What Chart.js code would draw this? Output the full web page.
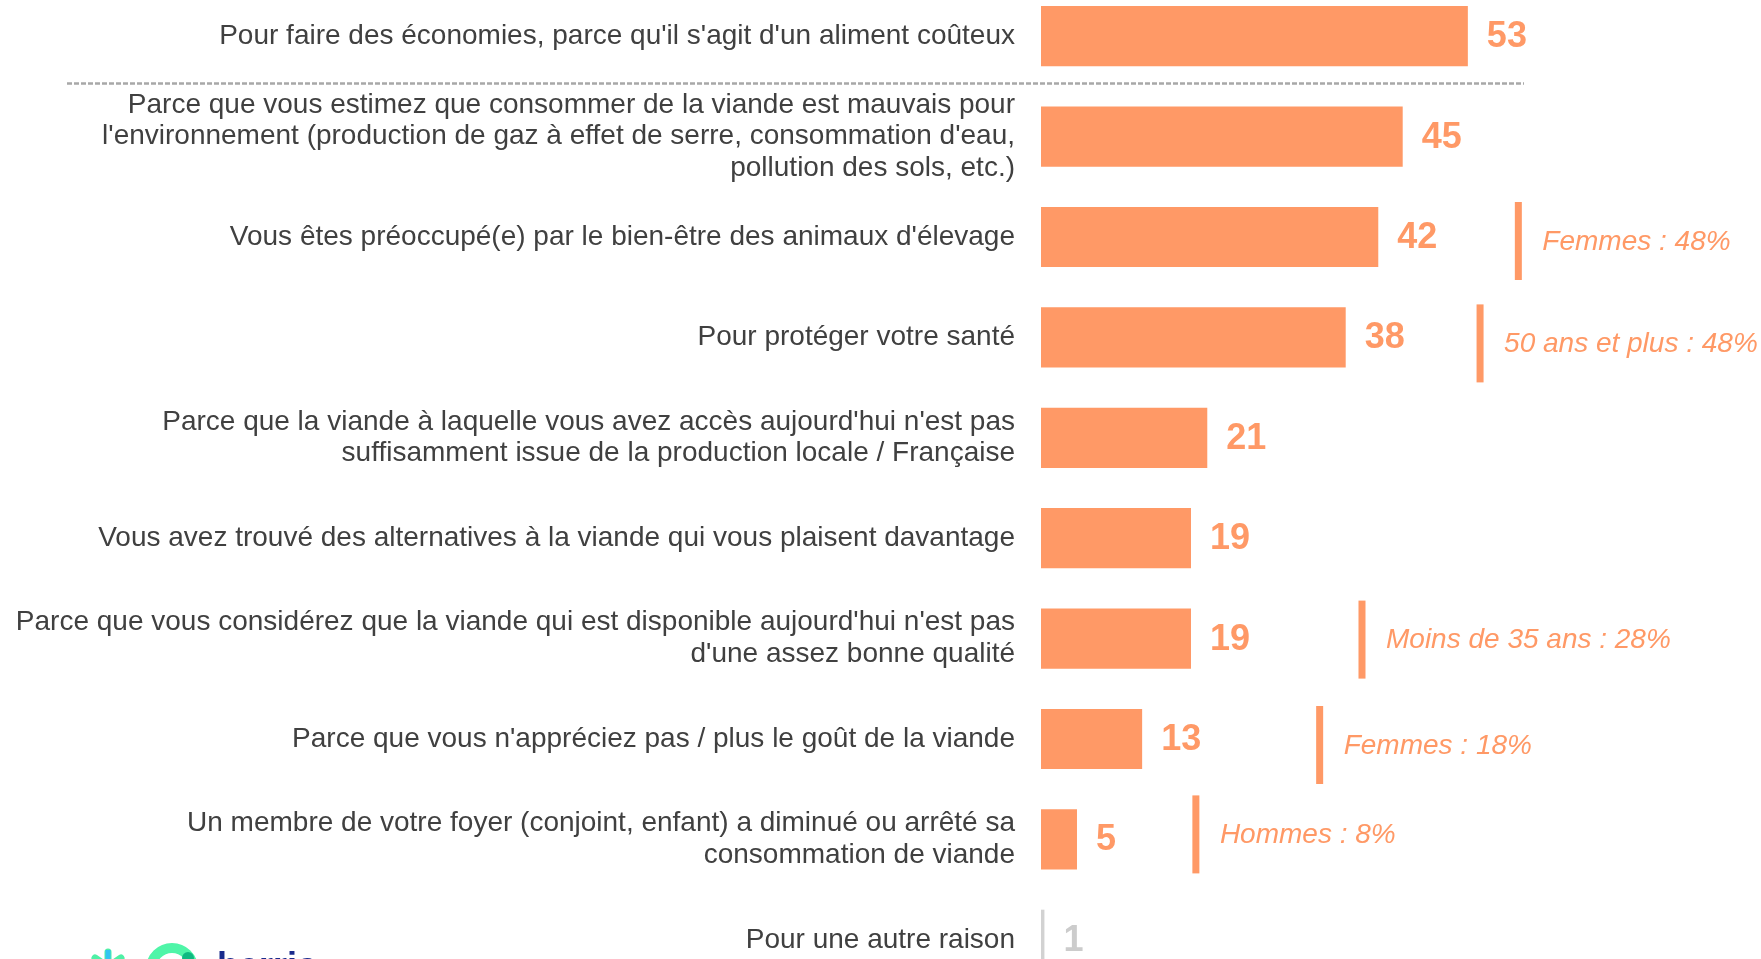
<!DOCTYPE html>
<html>
<head>
<meta charset="utf-8">
<script src="https://cdn.jsdelivr.net/npm/chart.js@4.4.1/dist/chart.umd.min.js"></script>
<style>
    html, body { margin: 0; padding: 0; background: #fff; }
    body { width: 1761px; height: 959px; overflow: hidden; position: relative; }
    #wrap { position: absolute; left: 0; top: -14px; width: 1761px; height: 1004px; }
    #logo { position: absolute; left: 80px; top: 936px; }
</style>
</head>
<body>
<div id="wrap"><canvas id="chart"></canvas></div>
<svg id="logo" width="260" height="60" viewBox="0 0 260 60">
    <g stroke="#4ff0a6" stroke-width="7" stroke-linecap="round">
        <line x1="28" y1="16" x2="28" y2="46"/>
        <line x1="15" y1="22" x2="41" y2="40"/>
        <line x1="41" y1="22" x2="15" y2="40"/>
    </g>
    <line x1="28" y1="14" x2="28" y2="28" stroke="#33c4f2" stroke-width="5"/>
    <circle cx="92" cy="33" r="21" fill="none" stroke="#4ff5a8" stroke-width="10"/>
    <circle cx="108" cy="22" r="6" fill="#10b981"/>
    <text x="137" y="42" font-family="Liberation Sans, Arial" font-weight="bold" font-size="36" fill="#1a2b8c">harris</text>
</svg>
<script>
// ==================== DATA ====================
const categories = [
    "Pour faire des économies, parce qu'il s'agit d'un aliment coûteux",
    ["Parce que vous estimez que consommer de la viande est mauvais pour",
     "l'environnement (production de gaz à effet de serre, consommation d'eau,",
     "pollution des sols, etc.)"],
    "Vous êtes préoccupé(e) par le bien-être des animaux d'élevage",
    "Pour protéger votre santé",
    ["Parce que la viande à laquelle vous avez accès aujourd'hui n'est pas",
     "suffisamment issue de la production locale / Française"],
    "Vous avez trouvé des alternatives à la viande qui vous plaisent davantage",
    ["Parce que vous considérez que la viande qui est disponible aujourd'hui n'est pas",
     "d'une assez bonne qualité"],
    "Parce que vous n'appréciez pas / plus le goût de la viande",
    ["Un membre de votre foyer (conjoint, enfant) a diminué ou arrêté sa",
     "consommation de viande"],
    "Pour une autre raison"
];
const values = [53, 45, 42, 38, 21, 19, 19, 13, 5, 1];

// sub-group callouts: category index + text
const calloutIndex = [2, 3, 6, 7, 8];
const calloutText = ['Femmes : 48%', '50 ans et plus : 48%', 'Moins de 35 ans : 28%', 'Femmes : 18%', 'Hommes : 8%'];

const ORANGE = '#ff9966';
const GREY_BAR = '#d2d2d2';
const FONT = "'Liberation Sans', Arial, sans-serif";

// ==================== PLUGINS ====================
const valueLabels = {
    id: 'valueLabels',
    afterDatasetsDraw(chart) {
        const ctx = chart.ctx;
        const meta = chart.getDatasetMeta(0);
        ctx.save();
        ctx.font = 'bold 36px ' + FONT;
        ctx.textAlign = 'left';
        ctx.textBaseline = 'middle';
        meta.data.forEach((bar, i) => {
            ctx.fillStyle = i === values.length - 1 ? '#cccccc' : ORANGE;
            ctx.fillText(values[i], bar.x + 19, bar.y + 1);
        });
        ctx.restore();
    }
};

const callouts = {
    id: 'callouts',
    afterDraw(chart, args, opts) {
        const ctx = chart.ctx;
        const x = chart.scales.x;
        const y = chart.scales.y;
        ctx.save();
        calloutIndex.forEach((idx, k) => {
            const px = x.getPixelForValue(opts.at[k]);
            const py = y.getPixelForValue(idx) + opts.dy[k];
            ctx.fillStyle = ORANGE;
            ctx.fillRect(px - 3.5, py - 39, 7, 78);
            ctx.font = 'italic 28px ' + FONT;
            ctx.textAlign = 'left';
            ctx.textBaseline = 'middle';
            ctx.fillText(calloutText[k], px + 24, py + 1);
        });
        ctx.restore();
    }
};

const separator = {
    id: 'separator',
    beforeDatasetsDraw(chart) {
        const ctx = chart.ctx;
        const y = chart.scales.y;
        const py = (y.getPixelForValue(0) + y.getPixelForValue(1)) / 2 - 3;
        ctx.save();
        ctx.strokeStyle = '#a8a8a8';
        ctx.lineWidth = 2.5;
        ctx.setLineDash([5, 2]);
        ctx.beginPath();
        ctx.moveTo(67, py);
        ctx.lineTo(1524, py);
        ctx.stroke();
        ctx.restore();
    }
};

// ==================== CHART ====================
new Chart(document.getElementById('chart'), {
    type: 'bar',
    data: {
        labels: categories,
        datasets: [{
            data: values,
            backgroundColor: ctx => ctx.dataIndex === values.length - 1 ? GREY_BAR : ORANGE,
            borderWidth: 0,
            barPercentage: 0.6,
            categoryPercentage: 1
        }]
    },
    options: {
        indexAxis: 'y',
        responsive: true,
        maintainAspectRatio: false,
        animation: false,
        layout: { padding: 0 },
        plugins: {
            legend: { display: false },
            tooltip: { enabled: false },
            callouts: { at: [59.2, 54.5, 40.0, 34.8, 19.6], dy: [4, 6, 1, 6, -5] }
        },
        scales: {
            x: { display: false, min: 0.58, max: 89.0 },
            y: {
                grid: { display: false },
                border: { display: false },
                afterFit: scale => {
                    scale.width = 1041;
                    scale.paddingTop = 0;
                    scale.paddingBottom = 0;
                },
                ticks: {
                    autoSkip: false,
                    padding: 18,
                    color: '#404040',
                    font: { size: 28, family: FONT, lineHeight: 1.13 }
                }
            }
        }
    },
    plugins: [valueLabels, callouts, separator]
});
</script>
</body>
</html>
